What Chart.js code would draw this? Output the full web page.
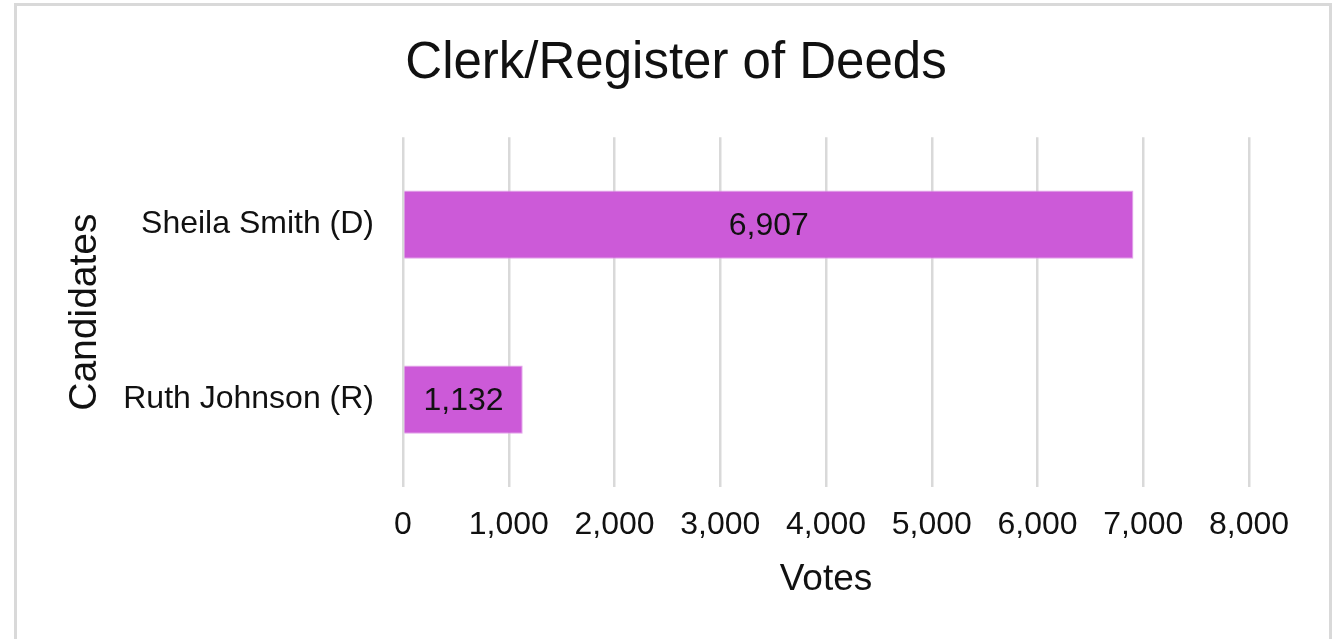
<!DOCTYPE html>
<html>
<head>
<meta charset="utf-8">
<script src="https://cdn.jsdelivr.net/npm/chart.js@4/dist/chart.umd.min.js"></script>
<style>
  html, body { margin: 0; padding: 0; background: #fff; }
  #wrap { position: relative; width: 1343px; height: 639px; overflow: hidden; }
  #frame { position: absolute; left: 14px; top: 3px; width: 1318px; height: 660px;
           border: 3px solid #d9d9d9; box-sizing: border-box; }
  #box { position: absolute; left: 17px; top: 6px; width: 1312px; height: 633px; }
</style>
</head>
<body>
<div id="wrap">
  <div id="frame"></div>
  <div id="box"><canvas id="voteChart"></canvas></div>
</div>
<script>
// chart values
var candidates = ["Sheila Smith (D)", "Ruth Johnson (R)"];
var votes = [6907, 1132];
var chartTitle = "Clerk/Register of Deeds";

var fontName = '"Liberation Sans", Arial, sans-serif';

// draws the value in the middle of every bar
var barValueLabels = {
    id: 'barValueLabels',
    afterDatasetsDraw: function (chart) {
        var ctx = chart.ctx;
        ctx.save();
        ctx.font = '32px ' + fontName;
        ctx.fillStyle = '#111';
        ctx.textAlign = 'center';
        ctx.textBaseline = 'middle';
        chart.getDatasetMeta(0).data.forEach(function (bar, i) {
            var mid = (bar.x + bar.base) / 2;
            ctx.fillText(votes[i].toLocaleString('en-US'), mid, bar.y + 2);
        });
        ctx.restore();
    }
};

var ctx = document.getElementById('voteChart');

var voteChart = new Chart(ctx, {
    type: 'bar',
    data: {
        labels: candidates,
        datasets: [{
            label: 'Votes',
            data: votes,
            backgroundColor: '#cc5ad8',
            borderColor: '#e3a3ea',
            borderWidth: 1,
            barPercentage: 0.78,
            categoryPercentage: 0.5
        }]
    },
    options: {
        indexAxis: 'y',
        responsive: true,
        maintainAspectRatio: false,
        animation: false,
        layout: { padding: { left: 40, right: 34, top: 0, bottom: 41 } },
        plugins: {
            legend: { display: false },
            tooltip: { enabled: false },
            title: {
                display: true,
                text: chartTitle,
                color: '#111',
                font: { family: fontName, size: 51, weight: 'normal' },
                padding: { top: 27, bottom: 43 }
            }
        },
        scales: {
            x: {
                min: 0,
                max: 8000,
                ticks: {
                    stepSize: 1000,
                    color: '#111',
                    padding: 22,
                    font: { family: fontName, size: 32, lineHeight: 1 },
                    callback: function (v) { return v.toLocaleString('en-US'); }
                },
                grid: { color: '#d9d9d9', lineWidth: 2.5, drawTicks: false },
                border: { display: false },
                title: {
                    display: true,
                    text: 'Votes',
                    color: '#111',
                    font: { family: fontName, size: 37, lineHeight: 1 },
                    padding: { top: -2, bottom: 0 }
                }
            },
            y: {
                afterFit: function (scale) { scale.width = 346; },
                ticks: {
                    color: '#111',
                    padding: 21,
                    font: { family: fontName, size: 32 }
                },
                grid: { display: false },
                border: { display: false },
                title: {
                    display: true,
                    text: 'Candidates',
                    color: '#111',
                    font: { family: fontName, size: 39 },
                    padding: { top: 5, bottom: 0 }
                }
            },
            // empty right-hand axis, only keeps space right of the plot
            yRight: {
                position: 'right',
                afterFit: function (scale) { scale.width = 46; },
                ticks: { display: false },
                grid: { display: false },
                border: { display: false }
            }
        }
    },
    plugins: [barValueLabels]
});
</script>
</body>
</html>
